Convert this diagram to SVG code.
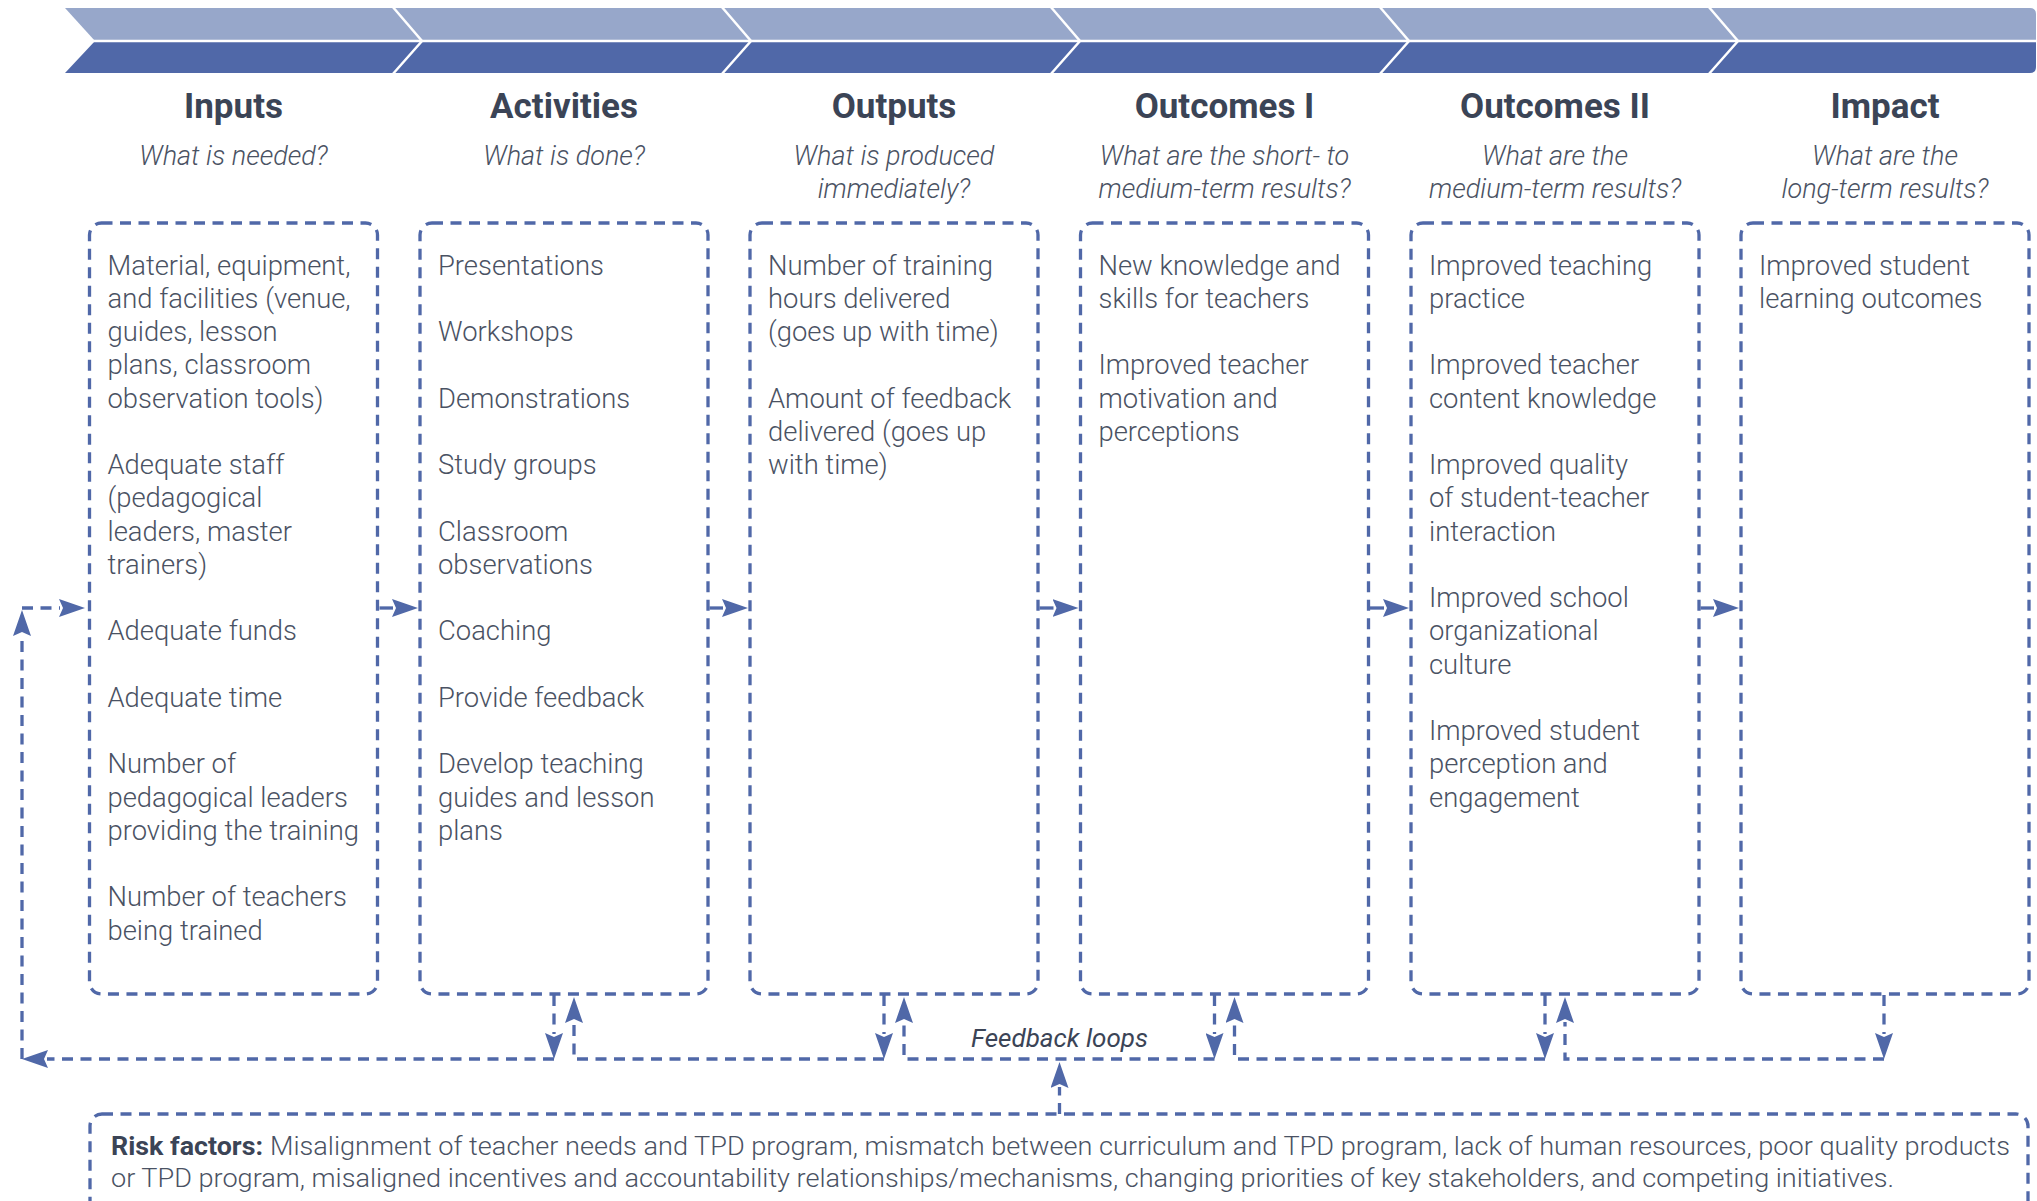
<svg xmlns="http://www.w3.org/2000/svg" width="2037" height="1201" viewBox="0 0 2037 1201">
<defs>
<style>
.hdr{font-family:Roboto,"Liberation Sans",sans-serif;font-weight:700;font-size:35px;fill:#3B4456;text-anchor:middle}
.sub{font-family:Roboto,"Liberation Sans",sans-serif;font-style:italic;font-weight:300;font-size:27px;fill:#4A5263;text-anchor:middle}
.body{font-family:Roboto,"Liberation Sans",sans-serif;font-weight:300;font-size:27.4px;fill:#4A5263}
.box{fill:none;stroke:#5068A8;stroke-width:3.3;stroke-dasharray:11 7.5}
.dash{fill:none;stroke:#5068A8;stroke-width:3.3;stroke-dasharray:11 7.5}
.solid{fill:none;stroke:#5068A8;stroke-width:3.3}
.risk{font-family:Roboto,"Liberation Sans",sans-serif;font-weight:300;font-size:26px;fill:#4A5263}
.riskb{font-family:Roboto,"Liberation Sans",sans-serif;font-weight:700;font-size:26px;fill:#3B4456}
.fb{font-family:Roboto,"Liberation Sans",sans-serif;font-style:italic;font-weight:400;font-size:26px;fill:#3B4456;text-anchor:middle}
.div{fill:none;stroke:#FFFFFF;stroke-width:2.5}
</style>
<marker id="ah" viewBox="0 0 26 18" refX="1" refY="9" markerWidth="26" markerHeight="18" markerUnits="userSpaceOnUse" orient="auto">
<path d="M0,0 L26,9 L0,18 L4,9 Z" fill="#5068A8"/>
</marker>
</defs>
<rect width="2037" height="1201" fill="#FFFFFF"/>

<g id="chevron-band">
<path d="M65,8 H2030 Q2036,8 2036,14 V41 H95 Z" fill="#97A7CA"/>
<path d="M95,41 H2036 V67 Q2036,73 2030,73 H65 Z" fill="#5068A8"/>
<line x1="60" y1="41" x2="2037" y2="41" class="div"/>
<polyline points="392,6 422,41 392,75" class="div"/>
<polyline points="721,6 751,41 721,75" class="div"/>
<polyline points="1050,6 1080,41 1050,75" class="div"/>
<polyline points="1379,6 1409,41 1379,75" class="div"/>
<polyline points="1708,6 1738,41 1708,75" class="div"/>
</g>

<g id="inputs">
<text class="hdr" x="233.5" y="118">Inputs</text>
<text class="sub" x="233.5" y="165">What is needed?</text>
<rect class="box" x="89.5" y="223" width="288" height="771" rx="12"/>
<text class="body" x="107.5" y="274.5">Material, equipment,</text>
<text class="body" x="107.5" y="307.75">and facilities (venue,</text>
<text class="body" x="107.5" y="341">guides, lesson</text>
<text class="body" x="107.5" y="374.25">plans, classroom</text>
<text class="body" x="107.5" y="407.5">observation tools)</text>
<text class="body" x="107.5" y="474">Adequate staff</text>
<text class="body" x="107.5" y="507.25">(pedagogical</text>
<text class="body" x="107.5" y="540.5">leaders, master</text>
<text class="body" x="107.5" y="573.75">trainers)</text>
<text class="body" x="107.5" y="640.25">Adequate funds</text>
<text class="body" x="107.5" y="706.75">Adequate time</text>
<text class="body" x="107.5" y="773.25">Number of</text>
<text class="body" x="107.5" y="806.5">pedagogical leaders</text>
<text class="body" x="107.5" y="839.75">providing the training</text>
<text class="body" x="107.5" y="906.25">Number of teachers</text>
<text class="body" x="107.5" y="939.5">being trained</text>
</g>

<g id="activities">
<text class="hdr" x="564" y="118">Activities</text>
<text class="sub" x="564" y="165">What is done?</text>
<rect class="box" x="420" y="223" width="288" height="771" rx="12"/>
<text class="body" x="438" y="274.5">Presentations</text>
<text class="body" x="438" y="341">Workshops</text>
<text class="body" x="438" y="407.5">Demonstrations</text>
<text class="body" x="438" y="474">Study groups</text>
<text class="body" x="438" y="540.5">Classroom</text>
<text class="body" x="438" y="573.75">observations</text>
<text class="body" x="438" y="640.25">Coaching</text>
<text class="body" x="438" y="706.75">Provide feedback</text>
<text class="body" x="438" y="773.25">Develop teaching</text>
<text class="body" x="438" y="806.5">guides and lesson</text>
<text class="body" x="438" y="839.75">plans</text>
</g>

<g id="outputs">
<text class="hdr" x="894" y="118">Outputs</text>
<text class="sub" x="894" y="165">What is produced</text>
<text class="sub" x="894" y="198">immediately?</text>
<rect class="box" x="750" y="223" width="288" height="771" rx="12"/>
<text class="body" x="768" y="274.5">Number of training</text>
<text class="body" x="768" y="307.75">hours delivered</text>
<text class="body" x="768" y="341">(goes up with time)</text>
<text class="body" x="768" y="407.5">Amount of feedback</text>
<text class="body" x="768" y="440.75">delivered (goes up</text>
<text class="body" x="768" y="474">with time)</text>
</g>

<g id="outcomes-1">
<text class="hdr" x="1224.5" y="118">Outcomes I</text>
<text class="sub" x="1224.5" y="165">What are the short- to</text>
<text class="sub" x="1224.5" y="198">medium-term results?</text>
<rect class="box" x="1080.5" y="223" width="288" height="771" rx="12"/>
<text class="body" x="1098.5" y="274.5">New knowledge and</text>
<text class="body" x="1098.5" y="307.75">skills for teachers</text>
<text class="body" x="1098.5" y="374.25">Improved teacher</text>
<text class="body" x="1098.5" y="407.5">motivation and</text>
<text class="body" x="1098.5" y="440.75">perceptions</text>
</g>

<g id="outcomes-2">
<text class="hdr" x="1555" y="118">Outcomes II</text>
<text class="sub" x="1555" y="165">What are the</text>
<text class="sub" x="1555" y="198">medium-term results?</text>
<rect class="box" x="1411" y="223" width="288" height="771" rx="12"/>
<text class="body" x="1429" y="274.5">Improved teaching</text>
<text class="body" x="1429" y="307.75">practice</text>
<text class="body" x="1429" y="374.25">Improved teacher</text>
<text class="body" x="1429" y="407.5">content knowledge</text>
<text class="body" x="1429" y="474">Improved quality</text>
<text class="body" x="1429" y="507.25">of student-teacher</text>
<text class="body" x="1429" y="540.5">interaction</text>
<text class="body" x="1429" y="607">Improved school</text>
<text class="body" x="1429" y="640.25">organizational</text>
<text class="body" x="1429" y="673.5">culture</text>
<text class="body" x="1429" y="740">Improved student</text>
<text class="body" x="1429" y="773.25">perception and</text>
<text class="body" x="1429" y="806.5">engagement</text>
</g>

<g id="impact">
<text class="hdr" x="1885" y="118">Impact</text>
<text class="sub" x="1885" y="165">What are the</text>
<text class="sub" x="1885" y="198">long-term results?</text>
<rect class="box" x="1741" y="223" width="288" height="771" rx="12"/>
<text class="body" x="1759" y="274.5">Improved student</text>
<text class="body" x="1759" y="307.75">learning outcomes</text>
</g>

<g id="risk-factors">
<rect class="box" x="90" y="1114" width="1938" height="130" rx="12"/>
<text class="riskb" x="111" y="1155" textLength="152" lengthAdjust="spacingAndGlyphs">Risk factors:</text>
<text class="risk" x="270" y="1155" textLength="1740" lengthAdjust="spacingAndGlyphs">Misalignment of teacher needs and TPD program, mismatch between curriculum and TPD program, lack of human resources, poor quality products</text>
<text class="risk" x="111" y="1187" textLength="1783" lengthAdjust="spacingAndGlyphs">or TPD program, misaligned incentives and accountability relationships/mechanisms, changing priorities of key stakeholders, and competing initiatives.</text>
</g>

<g id="feedback-label">
<text class="fb" x="1059.5" y="1047">Feedback loops</text>
</g>

<g id="connectors">
<path class="solid" d="M379.5,608 H393" marker-end="url(#ah)"/>
<path class="solid" d="M709.5,608 H723" marker-end="url(#ah)"/>
<path class="solid" d="M1039.5,608 H1053.5" marker-end="url(#ah)"/>
<path class="solid" d="M1370,608 H1384" marker-end="url(#ah)"/>
<path class="solid" d="M1700.5,608 H1714" marker-end="url(#ah)"/>
<path class="dash" d="M22,608 H60" marker-end="url(#ah)"/>
<path class="dash" d="M22,1059 V635" marker-end="url(#ah)"/>
<path class="dash" d="M554,1059 H47" marker-end="url(#ah)"/>
<path class="dash" d="M554,995 V1034" marker-end="url(#ah)"/>
<path class="dash" d="M884,995 V1034" marker-end="url(#ah)"/>
<path class="dash" d="M1214.5,995 V1034" marker-end="url(#ah)"/>
<path class="dash" d="M1545,995 V1034" marker-end="url(#ah)"/>
<path class="dash" d="M1884,995 V1034" marker-end="url(#ah)"/>
<path class="dash" d="M884,1059 H574 V1022" marker-end="url(#ah)"/>
<path class="dash" d="M1214.5,1059 H904 V1022" marker-end="url(#ah)"/>
<path class="dash" d="M1545,1059 H1234.5 V1022" marker-end="url(#ah)"/>
<path class="dash" d="M1884,1059 H1565 V1022" marker-end="url(#ah)"/>
<path class="dash" d="M1059.5,1114 V1087" marker-end="url(#ah)"/>
</g>
</svg>
